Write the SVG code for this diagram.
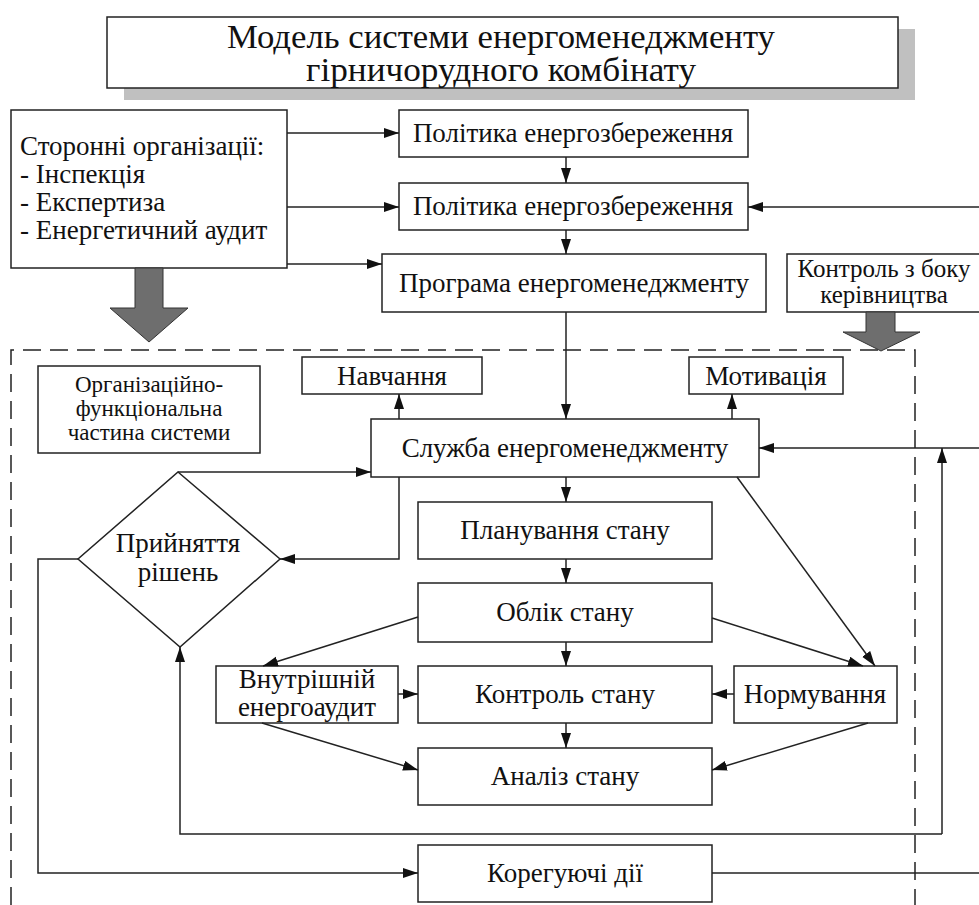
<svg xmlns="http://www.w3.org/2000/svg" width="979" height="905" viewBox="0 0 979 905">
<style>
  .box { fill: #ffffff; stroke: #222222; stroke-width: 1.5; }
  .t { font-family: "Liberation Serif", "Times New Roman", serif; font-size: 27px; fill: #111111; text-anchor: middle; }
  .ts { font-family: "Liberation Serif", "Times New Roman", serif; font-size: 25px; fill: #111111; text-anchor: middle; }
  .to { font-family: "Liberation Serif", "Times New Roman", serif; font-size: 23px; fill: #111111; text-anchor: middle; }
  .tl { font-family: "Liberation Serif", "Times New Roman", serif; font-size: 27px; fill: #111111; text-anchor: start; }
  .title { font-family: "Liberation Serif", "Times New Roman", serif; font-size: 33px; fill: #111111; text-anchor: middle; }
  .ln { fill: none; stroke: #222222; stroke-width: 1.5; }
  .arr { fill: none; stroke: #222222; stroke-width: 1.5; marker-end: url(#ah); }
  .big { fill: #6e6e6e; stroke: #333333; stroke-width: 1; }
  .dash { fill: none; stroke: #222222; stroke-width: 1.5; stroke-dasharray: 18 9; }
</style>
<defs>
  <marker id="ah" markerUnits="userSpaceOnUse" markerWidth="16" markerHeight="11" refX="15" refY="5" orient="auto">
    <path d="M0,0 L15,5 L0,10 z" fill="#111111"/>
  </marker>
</defs>
<rect width="979" height="905" fill="#ffffff"/>

<!-- dashed boundary of organisational part -->
<path class="dash" d="M11,905 V350 H915 V905"/>

<g id="title">
  <rect x="124" y="29" width="791" height="71" fill="#c0c0c0"/>
  <rect class="box" x="107" y="17" width="791" height="71"/>
  <text class="title" x="501" y="48" textLength="548" lengthAdjust="spacingAndGlyphs">Модель системи енергоменеджменту</text>
  <text class="title" x="501" y="81" textLength="390" lengthAdjust="spacingAndGlyphs">гірничорудного комбінату</text>
</g>

<g id="external">
  <rect class="box" x="11" y="110" width="276" height="158"/>
  <text class="tl" x="20" y="155">Сторонні організації:</text>
  <text class="tl" x="20" y="183">- Інспекція</text>
  <text class="tl" x="20" y="211">- Експертиза</text>
  <text class="tl" x="20" y="239">- Енергетичний аудит</text>
</g>

<g id="policy1">
  <rect class="box" x="399" y="110" width="349" height="47"/>
  <text class="t" x="573" y="142">Політика енергозбереження</text>
</g>

<g id="policy2">
  <rect class="box" x="399" y="183" width="349" height="47"/>
  <text class="t" x="573" y="215">Політика енергозбереження</text>
</g>

<g id="program">
  <rect class="box" x="382" y="254" width="384" height="58"/>
  <text class="t" x="574" y="292">Програма енергоменеджменту</text>
</g>

<g id="management">
  <rect class="box" x="787" y="254" width="200" height="58"/>
  <text class="ts" x="884" y="277">Контроль з боку</text>
  <text class="ts" x="884" y="303">керівництва</text>
</g>

<g id="bigarrows">
  <polygon class="big" points="135,268 163,268 163,308 188,308 149,342 110,308 135,308"/>
  <polygon class="big" points="866,312 895,312 895,332 920,332 881,351 843,332 866,332"/>
</g>

<g id="orgpart">
  <rect class="box" x="38" y="366" width="222" height="87"/>
  <text class="to" x="149" y="392">Організаційно-</text>
  <text class="to" x="149" y="416">функціональна</text>
  <text class="to" x="149" y="440">частина системи</text>
</g>

<g id="training">
  <rect class="box" x="302" y="357" width="180" height="37"/>
  <text class="t" x="392" y="385">Навчання</text>
</g>

<g id="motivation">
  <rect class="box" x="689" y="357" width="154" height="37"/>
  <text class="t" x="766" y="385">Мотивація</text>
</g>

<g id="service">
  <rect class="box" x="371" y="419" width="388" height="58"/>
  <text class="t" x="565" y="457">Служба енергоменеджменту</text>
</g>

<g id="decision">
  <polygon class="box" points="178,472 280,559 180,647 78,559"/>
  <text class="t" x="178" y="552">Прийняття</text>
  <text class="t" x="178" y="581">рішень</text>
</g>

<g id="planning">
  <rect class="box" x="418" y="502" width="294" height="57"/>
  <text class="t" x="565" y="539">Планування стану</text>
</g>

<g id="accounting">
  <rect class="box" x="418" y="583" width="294" height="59"/>
  <text class="t" x="565" y="621">Облік стану</text>
</g>

<g id="audit">
  <rect class="box" x="216" y="666" width="182" height="57"/>
  <text class="t" x="307" y="688">Внутрішній</text>
  <text class="t" x="307" y="716">енергоаудит</text>
</g>

<g id="control">
  <rect class="box" x="418" y="666" width="294" height="57"/>
  <text class="t" x="565" y="703">Контроль стану</text>
</g>

<g id="norming">
  <rect class="box" x="734" y="666" width="163" height="57"/>
  <text class="t" x="815" y="703">Нормування</text>
</g>

<g id="analysis">
  <rect class="box" x="418" y="748" width="294" height="57"/>
  <text class="t" x="565" y="785">Аналіз стану</text>
</g>

<g id="corrective">
  <rect class="box" x="418" y="845" width="294" height="57"/>
  <text class="t" x="565" y="882">Корегуючі дії</text>
</g>

<g id="connectors">
  <path class="arr" d="M287,133 H399"/>
  <path class="arr" d="M287,207 H399"/>
  <path class="arr" d="M287,264 H382"/>
  <path class="arr" d="M566,157 V183"/>
  <path class="arr" d="M566,230 V254"/>
  <path class="arr" d="M979,207 H748"/>
  <path class="arr" d="M566,312 V419"/>
  <path class="arr" d="M399,419 V394"/>
  <path class="arr" d="M732,419 V394"/>
  <path class="arr" d="M979,448 H759"/>
  <path class="arr" d="M942,834 H180 V647"/>
  <path class="arr" d="M942,834 V448"/>
  <path class="arr" d="M178,472 H371"/>
  <path class="arr" d="M399,477 V559 H280"/>
  <path class="arr" d="M78,559 H38 V873 H418"/>
  <path class="arr" d="M566,477 V502"/>
  <path class="arr" d="M566,559 V583"/>
  <path class="arr" d="M566,642 V666"/>
  <path class="arr" d="M566,723 V748"/>
  <path class="arr" d="M737,477 L875,666"/>
  <path class="arr" d="M712,618 L863,666"/>
  <path class="arr" d="M418,617 L263,666"/>
  <path class="arr" d="M398,694 H418"/>
  <path class="arr" d="M734,694 H712"/>
  <path class="arr" d="M262,723 L418,770"/>
  <path class="arr" d="M868,723 L712,770"/>
  <path class="ln" d="M712,873 H979"/>
</g>
</svg>
